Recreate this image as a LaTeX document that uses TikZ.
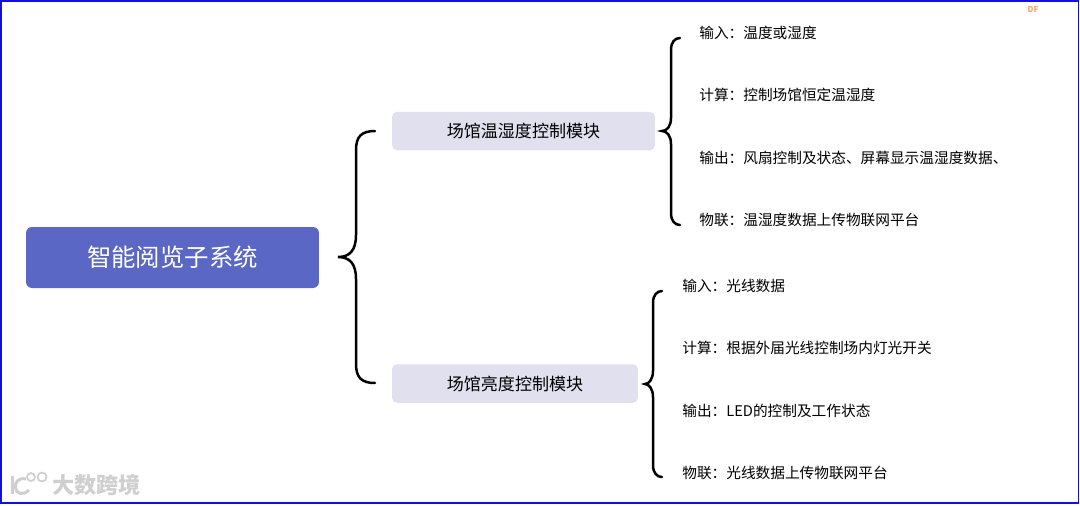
\documentclass[tikz,border=0pt]{standalone}
\usepackage{fontspec}
\setmainfont{Noto Sans CJK SC}
\usetikzlibrary{positioning}
\definecolor{rootblue}{HTML}{5A67C4}
\definecolor{modulegray}{HTML}{E0E0EE}
\definecolor{framblue}{HTML}{1010E0}
\definecolor{markorange}{HTML}{F0A868}
\definecolor{wmgray}{HTML}{CFCFCF}
\tikzset{
  rootbox/.style={fill=rootblue,rounded corners=0.12cm,inner sep=0,minimum width=5.86cm,minimum height=1.22cm,text=white,font=\fontsize{13.9pt}{15pt}\selectfont},
  modulebox/.style={fill=modulegray,rounded corners=0.1cm,inner sep=0,minimum height=0.77cm,text=black,font=\fontsize{9.7pt}{11pt}\selectfont},
  itemtext/.style={inner sep=0,anchor=west,text=black,font=\fontsize{8.35pt}{10pt}\selectfont},
  bracket/.style={black,line width=0.05cm,line cap=round},
}
\begin{document}
\begin{tikzpicture}[x=0.02cm,y=-0.02cm]
\useasboundingbox (0,0) rectangle (1080,505);
\draw[framblue,line width=0.035cm] (1,1) rectangle (1078.5,503);

\node[rootbox] (root) at (172.5,257.5) {智能阅览子系统};
\node[modulebox,minimum width=5.26cm] (hum) at (523.5,131) {场馆温湿度控制模块};
\node[modulebox,minimum width=4.92cm] (light) at (515,383.5) {场馆亮度控制模块};

\node[itemtext] (humin) at (699,32.5) {输入：温度或湿度};
\node[itemtext] (humcalc) at (699,95) {计算：控制场馆恒定温湿度};
\node[itemtext] (humout) at (699,157.5) {输出：风扇控制及状态、屏幕显示温湿度数据、};
\node[itemtext] (humnet) at (699,219.5) {物联：温湿度数据上传物联网平台};

\node[itemtext] (lightin) at (682,285.5) {输入：光线数据};
\node[itemtext] (lightcalc) at (682,347.5) {计算：根据外届光线控制场内灯光开关};
\node[itemtext] (lightout) at (682,410.5) {输出：LED的控制及工作状态};
\node[itemtext] (lightnet) at (682,472.5) {物联：光线数据上传物联网平台};

\coordinate (roottip) at (338,257);
\coordinate (rootup) at (375,131);
\coordinate (rootdown) at (375,383);
\draw[bracket] (rootup) .. controls (362,131) and (356,136) .. (356,150) -- (356,235)
  .. controls (356,250) and (350,257) .. (roottip)
  .. controls (350,257) and (356,264) .. (356,279) -- (356,364)
  .. controls (356,378) and (362,383) .. (rootdown);

\coordinate (humtip) at (662,131);
\coordinate (humup) at (680,38);
\coordinate (humdown) at (680,225);
\draw[bracket] (humup) .. controls (675,38) and (671,42) .. (671,50) -- (671,118)
  .. controls (671,126) and (667,131) .. (humtip)
  .. controls (667,131) and (671,136) .. (671,144) -- (671,213)
  .. controls (671,221) and (675,225) .. (humdown);

\coordinate (lighttip) at (645,384);
\coordinate (lightup) at (662,291);
\coordinate (lightdown) at (662,477);
\draw[bracket] (lightup) .. controls (657,291) and (653,295) .. (653,303) -- (653,371)
  .. controls (653,379) and (649,384) .. (lighttip)
  .. controls (649,384) and (653,389) .. (653,397) -- (653,465)
  .. controls (653,473) and (657,477) .. (lightdown);

\node[inner sep=0,text=markorange,font=\fontsize{4.6pt}{5pt}\bfseries\selectfont] (mark) at (1033,9.5) {DF};

\draw[wmgray,line width=0.06cm] (12.5,476) -- (12.5,494);
\draw[wmgray,line width=0.06cm] (26,479) .. controls (17,477) and (15,484) .. (15.5,487) .. controls (16,494) and (23,496) .. (29,490);
\draw[wmgray,line width=0.035cm] (31,477) circle (4);
\draw[wmgray,line width=0.035cm] (42,477) circle (4.5);
\node[inner sep=0,anchor=west,text=wmgray,font=\fontsize{12.6pt}{14pt}\bfseries\selectfont] (brand) at (52,485) {大数跨境};
\end{tikzpicture}
\end{document}
